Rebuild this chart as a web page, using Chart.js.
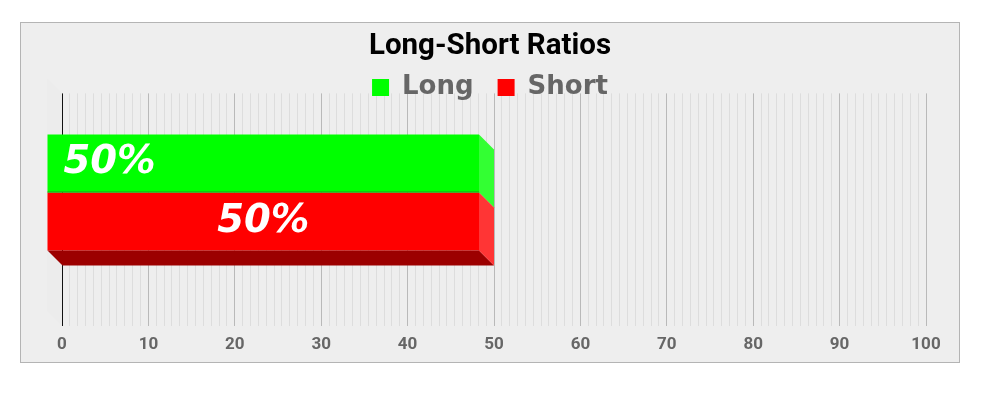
<!DOCTYPE html>
<html>
<head>
<meta charset="utf-8">
<script src="https://cdn.jsdelivr.net/npm/chart.js@4.4.0/dist/chart.umd.min.js"></script>
<style>
  body { margin: 0; background: #ffffff; }
  #wrapper { width: 1000px; height: 402px; }
</style>
</head>
<body>
<div id="wrapper"><canvas id="myChart"></canvas></div>
<script>
// Données du graphique
const categories = ['Ratio'];
const seriesNames = ['Long', 'Short'];
const longValues = [50];
const shortValues = [50];
const valueLabels = ['50%', '50%'];
const axisMin = 0;
const axisMax = 100;
const majorStep = 10;
const minorPerMajor = 10; // lignes secondaires entre deux graduations

// Couleurs
const frontColors = ['#00ff00', '#ff0000'];
const sideColors = ['#33ff33', '#ff3535'];
const bottomColors = ['#1c9c1c', '#9c0000'];

// Effet 3D : décalage de la face avant et profondeur
const shiftX = -15;
const shiftY = -17;
const depthX = 15;
const depthY = 15;
const legendShift = 17;
const headerShiftX = -4;

// Fond gris encadré + paroi gauche
const fondPlugin = {
  id: 'fond',
  beforeDraw(chart) {
    const ctx = chart.ctx;
    const a = chart.chartArea;
    ctx.save();
    ctx.fillStyle = '#ffffff';
    ctx.fillRect(0, 0, chart.width, chart.height);
    ctx.fillStyle = '#eeeeee';
    ctx.fillRect(20.5, 22.5, 939, 340);
    ctx.strokeStyle = '#b4b4b4';
    ctx.lineWidth = 1;
    ctx.strokeRect(20.5, 22.5, 939, 340);
    ctx.fillStyle = '#ececec';
    ctx.beginPath();
    ctx.moveTo(a.left - depthX, a.top - depthY);
    ctx.lineTo(a.left, a.top);
    ctx.lineTo(a.left, a.bottom);
    ctx.lineTo(a.left - depthX, a.bottom - depthY);
    ctx.closePath();
    ctx.fill();
    ctx.restore();
  }
};

// Titre et légende recentrés, légende descendue au-dessus de la paroi du fond
const entetePlugin = {
  id: 'entete',
  afterLayout(chart) {
    chart.legend.top += legendShift;
    chart.legend.bottom += legendShift;
    [chart.legend, chart.titleBlock].forEach(box => {
      if (box) {
        box.left += headerShiftX;
        box.right += headerShiftX;
      }
    });
  }
};

// Barres en 3D et étiquettes
const barres3dPlugin = {
  id: 'barres3d',
  beforeDatasetsDraw(chart) {
    chart.ctx.save();
    chart.ctx.translate(shiftX, shiftY);
  },
  afterDatasetsDraw(chart) {
    const ctx = chart.ctx;
    const metas = chart.data.datasets.map((ds, i) => chart.getDatasetMeta(i));

    // face du dessous de la dernière barre
    const last = metas.length - 1;
    metas[last].data.forEach(bar => {
      const bottom = bar.y + bar.height / 2;
      ctx.fillStyle = bottomColors[last];
      ctx.beginPath();
      ctx.moveTo(bar.base, bottom);
      ctx.lineTo(bar.x, bottom);
      ctx.lineTo(bar.x + depthX, bottom + depthY);
      ctx.lineTo(bar.base + depthX, bottom + depthY);
      ctx.closePath();
      ctx.fill();
    });

    // faces latérales
    metas.forEach((meta, i) => {
      meta.data.forEach(bar => {
        const top = bar.y - bar.height / 2;
        const bottom = bar.y + bar.height / 2;
        ctx.fillStyle = sideColors[i];
        ctx.beginPath();
        ctx.moveTo(bar.x, top);
        ctx.lineTo(bar.x + depthX, top + depthY);
        ctx.lineTo(bar.x + depthX, bottom + depthY);
        ctx.lineTo(bar.x, bottom);
        ctx.closePath();
        ctx.fill();
        if (i < last) {
          ctx.fillStyle = bottomColors[i];
          ctx.fillRect(bar.base, bottom - 1, bar.x - bar.base, 1);
        }
      });
    });

    // étiquettes de valeur
    ctx.fillStyle = '#ffffff';
    ctx.font = 'italic bold 38.5px "DejaVu Sans"';
    ctx.textBaseline = 'middle';
    metas.forEach((meta, i) => {
      meta.data.forEach(bar => {
        if (i === 0) {
          ctx.textAlign = 'left';
          ctx.fillText(valueLabels[i], bar.base + 16, bar.y);
        } else {
          ctx.textAlign = 'center';
          ctx.fillText(valueLabels[i], (bar.base + bar.x) / 2, bar.y);
        }
      });
    });

    ctx.restore();
  }
};

const isMajor = v => Math.abs(v - Math.round(v / majorStep) * majorStep) < 1e-6;

const ctx = document.getElementById('myChart').getContext('2d');
new Chart(ctx, {
  type: 'bar',
  data: {
    labels: categories,
    datasets: [
      {
        label: seriesNames[0],
        data: longValues,
        backgroundColor: frontColors[0],
        borderWidth: 0,
        categoryPercentage: 0.5,
        barPercentage: 1
      },
      {
        label: seriesNames[1],
        data: shortValues,
        backgroundColor: frontColors[1],
        borderWidth: 0,
        categoryPercentage: 0.5,
        barPercentage: 1
      }
    ]
  },
  options: {
    indexAxis: 'y',
    responsive: true,
    maintainAspectRatio: false,
    animation: false,
    layout: {
      padding: { top: 20, left: 62, right: 74, bottom: 38 }
    },
    scales: {
      x: {
        type: 'linear',
        min: axisMin,
        max: axisMax,
        border: { display: false },
        afterBuildTicks: scale => {
          const ticks = [];
          for (let m = axisMin; m < axisMax; m += majorStep) {
            for (let k = 0; k <= minorPerMajor; k++) {
              ticks.push({ value: m + k * majorStep / (minorPerMajor + 1) });
            }
          }
          ticks.push({ value: axisMax });
          scale.ticks = ticks;
        },
        grid: {
          drawTicks: false,
          lineWidth: 1,
          color: c => {
            const v = c.tick.value;
            if (v === axisMin) return '#111111';
            if (isMajor(v)) return '#b9b9b9';
            return '#dddddd';
          }
        },
        ticks: {
          autoSkip: false,
          maxRotation: 0,
          padding: 9,
          color: '#666666',
          font: { family: 'Roboto', weight: 'bold', size: 17 },
          callback: v => (isMajor(v) ? Math.round(v) : '')
        }
      },
      y: {
        type: 'category',
        display: false
      }
    },
    plugins: {
      title: {
        display: true,
        text: 'Long-Short Ratios',
        color: '#000000',
        font: { family: 'Roboto', weight: 'bold', size: 29.5 },
        padding: { top: 9, bottom: -31 }
      },
      legend: {
        labels: {
          boxWidth: 17,
          boxHeight: 17,
          padding: 24,
          color: '#666666',
          font: { family: 'DejaVu Sans', weight: 'bold', size: 26 }
        }
      },
      tooltip: { enabled: false }
    }
  },
  plugins: [fondPlugin, entetePlugin, barres3dPlugin]
});
</script>
</body>
</html>
